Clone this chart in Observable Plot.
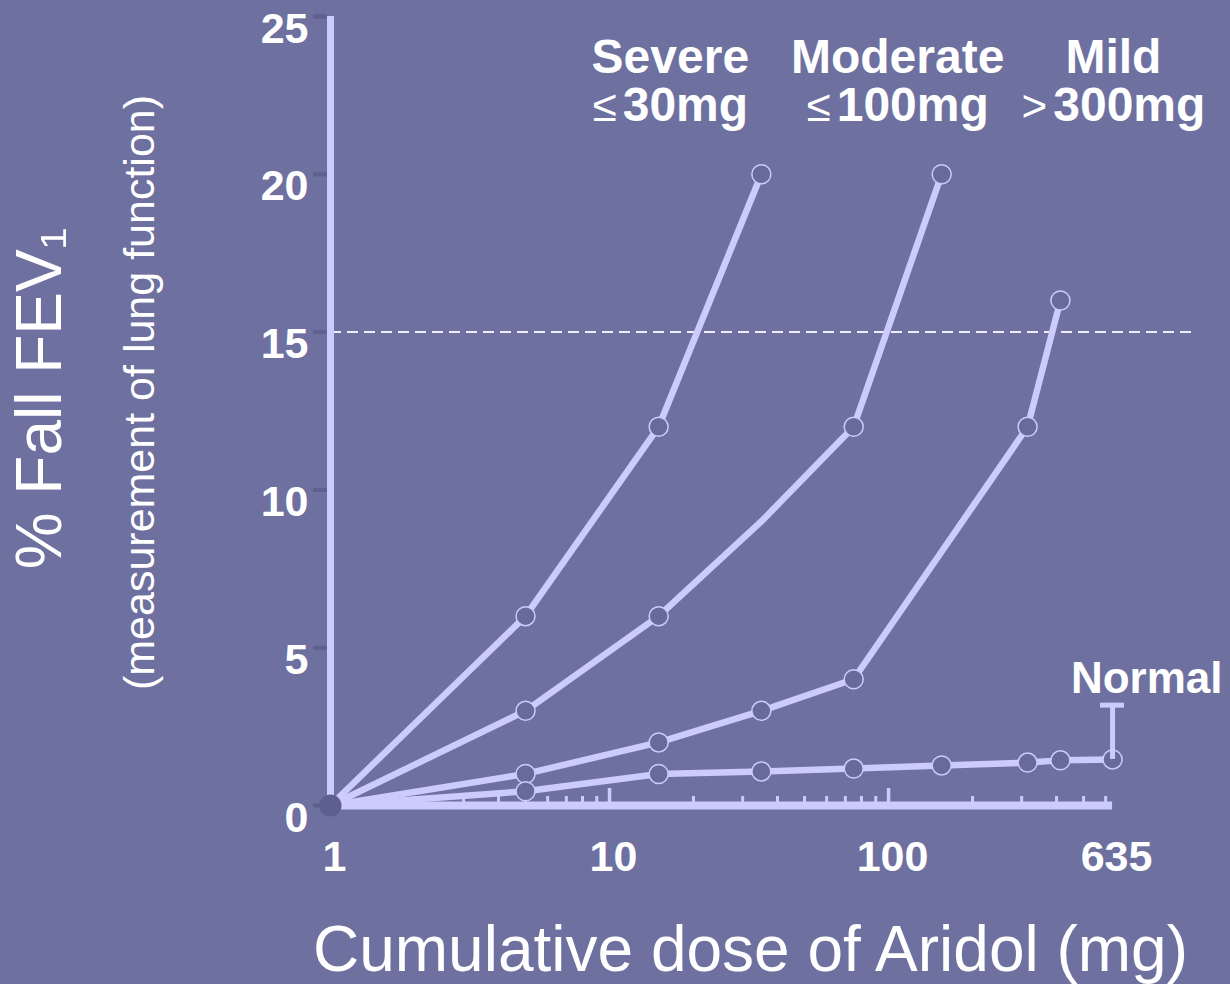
<!DOCTYPE html>
<html>
<head>
<meta charset="utf-8">
<script src="https://cdn.jsdelivr.net/npm/d3@7"></script>
<script src="https://cdn.jsdelivr.net/npm/@observablehq/plot@0.6"></script>
<style>
  html, body { margin: 0; padding: 0; background: #6e70a0; }
  #chart svg { display: block; }
</style>
</head>
<body>
<div id="chart"></div>
<script>
// ---- Data ----
const severeDose   = [1, 5, 15, 35];
const severeFall   = [0, 6, 12, 20];
const moderateDose = [1, 5, 15, 35, 75, 155];
const moderateFall = [0, 3, 6, 9, 12, 20];
const moderateMeasured = [true, true, true, false, true, true];
const mildDose     = [1, 5, 15, 35, 75, 315, 413];
const mildFall     = [0, 1, 2, 3, 4, 12, 16];
const normalDose   = [1, 5, 15, 35, 75, 155, 315, 413, 635];
const normalFall   = [0, 0.45, 1.0, 1.08, 1.17, 1.27, 1.36, 1.43, 1.46];
const normalErrorDose = [635];
const normalErrorUpper = [3.18];

const categoryNames  = ["Severe", "Moderate", "Mild"];
const categoryLimits = ["≤30mg", "≤100mg", ">300mg"];
const normalName = "Normal";

const thresholdFall = 15;
const thresholdDoseRange = [1, 1280];
const xDomain = [1, 1280];
const yDomain = [0, 25];
const yTicks = [0, 5, 10, 15, 20, 25];
const xTickLabels = [1, 10, 100, 635];
const xMajorTicks = [10, 100];
const xMinorTicks = [2, 3, 4, 5, 6, 7, 8, 9, 20, 30, 40, 50, 60, 70, 80, 90, 200, 300, 400, 500, 600];
const xAxisEnd = 635;

const xTitle = "Cumulative dose of Aridol (mg)";
const yTitle = "% Fall FEV₁";
const ySubtitle = "(measurement of lung function)";

// ---- Build table ----
function seriesRows(name, doses, falls, measured) {
  return doses.map((d, i) => ({series: name, dose: d, fall: falls[i], measured: measured ? measured[i] : true}));
}
const rows = [
  ...seriesRows("Severe", severeDose, severeFall),
  ...seriesRows("Moderate", moderateDose, moderateFall, moderateMeasured),
  ...seriesRows("Mild", mildDose, mildFall),
  ...seriesRows("Normal", normalDose, normalFall)
];
const lastOf = name => rows.filter(d => d.series === name).slice(-1)[0];
const origin = rows.filter(d => d.dose === 1 && d.fall === 0).slice(0, 1);
const errorBars = normalErrorDose.map((d, i) => ({dose: d, low: normalFall[normalDose.indexOf(d)], high: normalErrorUpper[i]}));

const lav = "#cccbfd";
const bg = "#6e70a0";
const dark = "#5d5f8e";
const font = "'Liberation Sans', Arial, Helvetica, sans-serif";

const catLabel = (i, dx) => Plot.text([lastOf(categoryNames[i])], {
  x: "dose", y: yDomain[1],
  text: () => categoryNames[i] + "\n" + categoryLimits[i],
  lineAnchor: "top", lineHeight: 1, dx, dy: 22,
  fontSize: 48, fontWeight: "bold", fill: "white", textAnchor: "middle"
});

const chart = Plot.plot({
  width: 1230,
  height: 984,
  marginLeft: 330,
  marginRight: 33,
  marginTop: 16,
  marginBottom: 179,
  style: {background: bg, fontFamily: font, overflow: "visible"},
  x: {type: "log", domain: xDomain, axis: null},
  y: {domain: yDomain, axis: null},
  marks: [
    // threshold
    Plot.ruleY([thresholdFall], {x1: thresholdDoseRange[0], x2: thresholdDoseRange[1], stroke: "#eeeeff", strokeWidth: 2, strokeDasharray: "11,6"}),
    // x minor/major ticks
    Plot.ruleX(xMinorTicks, {x: d => d, y1: 0, y2: 0, insetTop: -9, stroke: lav, strokeWidth: 3}),
    Plot.ruleX(xMajorTicks, {x: d => d, y1: 0, y2: 0, insetTop: -17, stroke: lav, strokeWidth: 3.5}),
    // axis lines
    Plot.ruleY([0], {x1: 1, x2: xAxisEnd, stroke: lav, strokeWidth: 8}),
    Plot.ruleX([1], {y1: yDomain[0], y2: yDomain[1], stroke: lav, strokeWidth: 7}),
    // y ticks (dark, left of axis)
    Plot.ruleY(yTicks, {y: d => d, x1: 1, x2: 1, insetLeft: -17, insetRight: 3, stroke: dark, strokeWidth: 4}),
    // series lines
    Plot.line(rows, {x: "dose", y: "fall", z: "series", stroke: lav, strokeWidth: 6.5, strokeLinejoin: "round", strokeLinecap: "round"}),
    // dots
    Plot.dot(rows.filter(d => d.measured && d.dose > 1), {x: "dose", y: "fall", r: 9.5, fill: "#686a9b", stroke: lav, strokeWidth: 1.5}),
    // origin
    Plot.dot(origin, {x: "dose", y: "fall", r: 11, fill: dark}),
    // error bar for Normal
    Plot.ruleX(errorBars, {x: "dose", y1: "low", y2: "high", stroke: lav, strokeWidth: 5}),
    Plot.ruleY(errorBars, {y: "high", x1: "dose", x2: "dose", insetLeft: -12, insetRight: -12, stroke: lav, strokeWidth: 5}),
    // tick labels
    Plot.text(xTickLabels, {x: d => d, y: 0, text: d => String(d), lineAnchor: "bottom", dy: 65, dx: 4, fontSize: 43, fontWeight: "bold", fill: "white"}),
    Plot.text(yTicks, {x: 1, y: d => d, text: d => String(d), textAnchor: "end", lineAnchor: "bottom", dx: -22, dy: 26, fontSize: 43, fontWeight: "bold", fill: "white"}),
    // category labels
    catLabel(0, -91),
    catLabel(1, -44),
    catLabel(2, 53),
    Plot.text(errorBars, {x: "dose", y: "high", text: () => normalName, textAnchor: "end", lineAnchor: "bottom", dx: 110, dy: -12, fontSize: 44, fontWeight: "bold", fill: "white"}),
    // titles
    Plot.text([xTitle], {frameAnchor: "bottom", text: d => d, lineAnchor: "bottom", dx: -13.5, dy: 165, fontSize: 64, fill: "white"}),
    Plot.text([yTitle], {frameAnchor: "left", text: d => d, rotate: -90, lineAnchor: "bottom", textAnchor: "middle", dx: -270, dy: -12.5, fontSize: 64, fill: "white"}),
    Plot.text([ySubtitle], {frameAnchor: "left", text: d => d, rotate: -90, lineAnchor: "bottom", textAnchor: "middle", dx: -177, dy: -18.5, fontSize: 43, fill: "white"})
  ]
});

// Style the comparison sign in the limit lines: lighter and a little smaller, followed by a small gap
d3.select(chart).selectAll("tspan").each(function() {
  const t = this.textContent;
  if (categoryLimits.includes(t)) {
    const sign = t[0], rest = t.slice(1);
    const el = d3.select(this);
    el.text(null);
    el.append("tspan").attr("font-weight", "normal").attr("font-size", 44).text(sign);
    el.append("tspan").attr("dx", 6).text(rest);
  }
});

document.getElementById("chart").appendChild(chart);
</script>
</body>
</html>
